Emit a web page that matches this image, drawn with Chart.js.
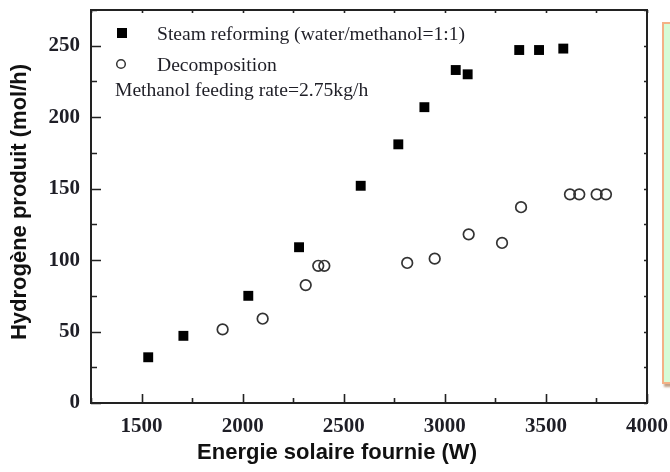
<!DOCTYPE html>
<html>
<head>
<meta charset="utf-8">
<script src="https://cdn.jsdelivr.net/npm/chart.js@4"></script>
<style>
  body { margin: 0; background: #fff; overflow: hidden; }
  #wrap { position: relative; width: 670px; height: 472px; }
  #side {
    position: absolute; left: 662px; top: 22px; width: 20px; height: 358px;
    background: #d6fbd6; border: 2px solid #f4b185;
    box-shadow: 2px 3px 2px rgba(150, 100, 60, 0.6);
  }
</style>
</head>
<body>
<div id="wrap">
  <canvas id="h2Chart" width="670" height="472"></canvas>
  <div id="side"></div>
</div>
<script>
// solar power (W) vs hydrogen produced (mol/h)
const steamX = [1533, 1707, 2028, 2279, 2584, 2770, 2899, 3054, 3113, 3368, 3466, 3586];
const steamY = [32, 47, 75, 109, 152, 181, 207, 233, 230, 247, 247, 248];
const decompX = [1901, 2099, 2312, 2374, 2404, 2814, 2950, 3118, 3283, 3377, 3619, 3665, 3751, 3797];
const decompY = [51.5, 59, 82.5, 96, 96, 98, 101, 118, 112, 137, 146, 146, 146, 146];

const xTicks = [1250, 1500, 1750, 2000, 2250, 2500, 2750, 3000, 3250, 3500, 3750, 4000];
const yTicks = [0, 25, 50, 75, 100, 125, 150, 175, 200, 225, 250, 275];

const seriesNames = ["Steam reforming (water/methanol=1:1)", "Decomposition"];
const noteText = "Methanol feeding rate=2.75kg/h";
const xTitle = "Energie solaire fournie (W)";
const yTitle = "Hydrogène produit (mol/h)";

function toPoints(xs, ys) {
    return xs.map((x, i) => ({ x: x, y: ys[i] }));
}

const ink = "#1e1e26";
const tickFont = { family: '"Liberation Serif", serif', weight: 'bold', size: 21 };

// frame, inward ticks, legend and axis titles
const framePlugin = {
    id: 'frame',
    afterDraw(chart) {
        let ctx = chart.ctx;
        let a = chart.chartArea;
        let xs = chart.scales.x, ys = chart.scales.y;
        ctx.save();
        ctx.strokeStyle = "#222";
        ctx.lineWidth = 2;
        ctx.strokeRect(a.left, a.top, a.right - a.left, a.bottom - a.top);

        ctx.lineWidth = 1.6;
        ctx.beginPath();
        xTicks.forEach(v => {
            let px = Math.round(xs.getPixelForValue(v)) + 0.5;
            let major = v % 500 === 0;
            ctx.moveTo(px, a.bottom);
            ctx.lineTo(px, a.bottom - (major ? 9 : 5));
            ctx.moveTo(px, a.top);
            ctx.lineTo(px, a.top + 3);
        });
        yTicks.forEach(v => {
            let py = Math.round(ys.getPixelForValue(v)) + 0.5;
            let major = v % 50 === 0;
            ctx.moveTo(a.left, py);
            ctx.lineTo(a.left + (major ? 10 : 6), py);
            ctx.moveTo(a.right, py);
            ctx.lineTo(a.right - 3, py);
        });
        ctx.stroke();

        // legend
        ctx.fillStyle = "#000";
        ctx.fillRect(117, 28, 10, 10);
        ctx.strokeStyle = "#333";
        ctx.lineWidth = 1.5;
        ctx.beginPath();
        ctx.arc(121, 64, 4.3, 0, Math.PI * 2);
        ctx.stroke();

        ctx.fillStyle = ink;
        ctx.font = '19.6px "Liberation Serif", serif';
        ctx.textBaseline = "alphabetic";
        ctx.textAlign = "left";
        ctx.fillText(seriesNames[0], 157, 40);
        ctx.fillText(seriesNames[1], 157, 71);
        ctx.fillText(noteText, 115, 96);

        // axis titles
        ctx.fillStyle = "#111";
        ctx.font = 'bold 22px "Liberation Sans", Arial, sans-serif';
        ctx.textAlign = "center";
        ctx.textBaseline = "middle";
        ctx.fillText(xTitle, 337, 453);
        ctx.translate(20, 202);
        ctx.rotate(-Math.PI / 2);
        ctx.fillText(yTitle, 0, 0);
        ctx.restore();
    }
};

let ctx = document.getElementById("h2Chart").getContext("2d");

let h2Chart = new Chart(ctx, {
    type: 'scatter',
    data: {
        datasets: [{
            label: seriesNames[0],
            data: toPoints(steamX, steamY),
            pointStyle: 'rect',
            pointRadius: 7,
            backgroundColor: "#000",
            borderWidth: 0
        }, {
            label: seriesNames[1],
            data: toPoints(decompX, decompY),
            pointStyle: 'circle',
            pointRadius: 5.3,
            backgroundColor: "rgba(255,255,255,0)",
            borderColor: "#333",
            borderWidth: 1.7
        }]
    },
    options: {
        responsive: false,
        animation: false,
        devicePixelRatio: 1,
        layout: { padding: { left: 0, right: 23, top: 10, bottom: 0 } },
        plugins: {
            legend: { display: false },
            tooltip: { enabled: false }
        },
        scales: {
            x: {
                type: 'linear',
                min: 1250,
                max: 4000,
                afterBuildTicks: s => { s.ticks = xTicks.map(v => ({ value: v })); },
                afterFit: s => {
                    s.height = 69;
                    s.paddingLeft = 0;
                    s.paddingRight = 0;
                },
                grid: { display: false, drawTicks: false },
                border: { display: false },
                ticks: {
                    color: ink,
                    font: tickFont,
                    padding: 11,
                    maxRotation: 0,
                    autoSkip: false,
                    callback: v => (v % 500 === 0 ? String(v) : '')
                }
            },
            y: {
                type: 'linear',
                min: 0,
                max: 275,
                afterBuildTicks: s => { s.ticks = yTicks.map(v => ({ value: v })); },
                afterFit: s => {
                    s.width = 91;
                    s.paddingTop = 0;
                    s.paddingBottom = 0;
                },
                grid: { display: false, drawTicks: false },
                border: { display: false },
                ticks: {
                    color: ink,
                    font: tickFont,
                    padding: 11,
                    autoSkip: false,
                    callback: v => (v % 50 === 0 ? String(v) : '')
                }
            }
        }
    },
    plugins: [framePlugin]
});
</script>
</body>
</html>
